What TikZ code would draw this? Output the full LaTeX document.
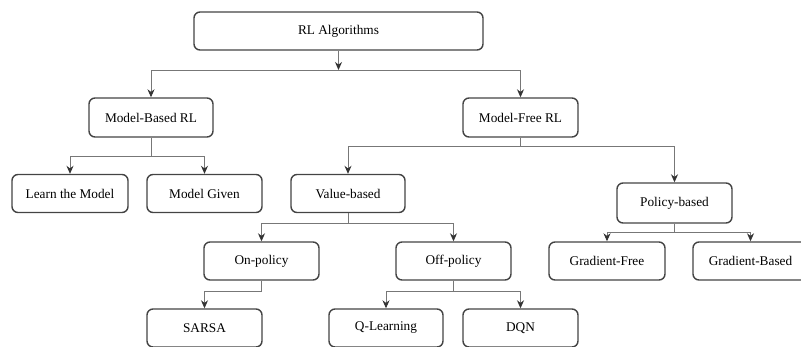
\documentclass[tikz,border=0pt]{standalone}
\usepackage{fontspec}
\setmainfont{Liberation Serif}
\usetikzlibrary{arrows.meta}
\definecolor{boxgray}{HTML}{444444}
\definecolor{linkgray}{HTML}{777777}
\definecolor{tipgray}{HTML}{333333}
\tikzset{
  algbox/.style={draw=boxgray, line width=1.4pt, rounded corners=6pt,
    minimum width=115pt, minimum height=38pt, inner sep=0pt,
    font=\fontsize{13.3}{16}\selectfont},
  link/.style={draw=linkgray, line width=0.9pt},
  arr/.style={link, -{Stealth[length=8pt,width=7pt,color=tipgray]}}
}

\begin{document}
\begin{tikzpicture}[x=1pt,y=-1pt]
\path[use as bounding box, clip] (0,0) rectangle (801,346);
% boxes
\node[algbox, minimum width=289pt] (root) at (338.5,31) {RL Algorithms};
\node[algbox, minimum width=124pt, minimum height=39pt] (mb) at (151,117.5) {Model-Based RL};
\node[algbox, minimum height=39pt] (mf) at (520.5,117.5) {Model-Free RL};
\node[algbox, minimum width=116pt] (learn) at (70,193.5) {Learn the Model};
\node[algbox] (given) at (204.5,193.5) {Model Given};
\node[algbox, minimum width=114pt] (value) at (348,193.5) {Value-based};
\node[algbox, minimum height=40pt] (policy) at (674.5,203) {Policy-based};
\node[algbox, minimum width=116pt] (gfree) at (607,261) {Gradient-Free};
\node[algbox] (gbased) at (750.5,261) {Gradient-Based};
\node[algbox] (onp) at (261.5,261) {On-policy};
\node[algbox] (offp) at (453.5,261) {Off-policy};
\node[algbox] (sarsa) at (204.5,328) {SARSA};
\node[algbox, minimum width=114pt] (qlearn) at (386,328) {Q-Learning};
\node[algbox] (dqn) at (520.5,328) {DQN};
% junctions
\coordinate (j0) at (338.5,70);
\coordinate (j1) at (151,156);
\coordinate (j2) at (520.5,146);
\coordinate (j3) at (348,223);
\coordinate (j4) at (674.5,232);
\coordinate (j5) at (261.5,291);
\coordinate (j6) at (453.5,291);
% connectors
\draw[arr] (root) -- (j0);
\draw[arr] (j0) -| (mb);
\draw[arr] (j0) -| (mf);
\draw[link] (mb) -- (j1);
\draw[arr] (j1) -| (learn);
\draw[arr] (j1) -| (given);
\draw[link] (mf) -- (j2);
\draw[arr] (j2) -| (value);
\draw[arr] (j2) -| (policy);
\draw[link] (value) -- (j3);
\draw[arr] (j3) -| (onp);
\draw[arr] (j3) -| (offp);
\draw[link] (policy) -- (j4);
\draw[arr] (j4) -| (gfree);
\draw[arr] (j4) -| (gbased);
\draw[link] (onp) -- (j5);
\draw[arr] (j5) -| (sarsa);
\draw[link] (offp) -- (j6);
\draw[arr] (j6) -| (qlearn);
\draw[arr] (j6) -| (dqn);
\end{tikzpicture}
\end{document}
